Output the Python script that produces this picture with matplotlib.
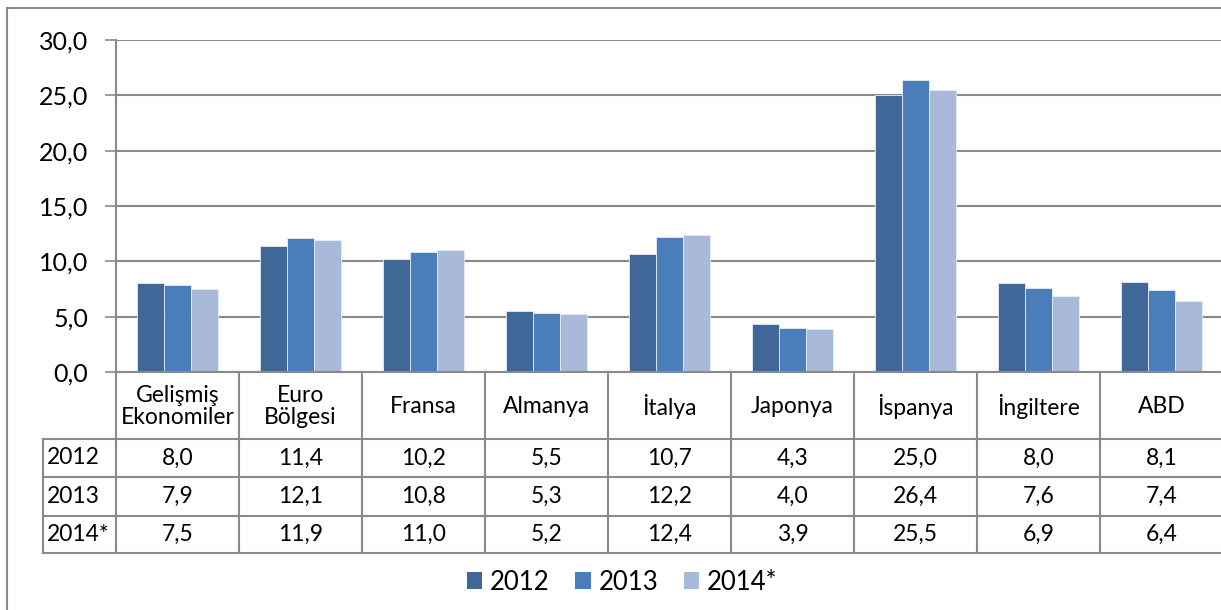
import numpy as np
import matplotlib.pyplot as plt
from matplotlib.lines import Line2D
from matplotlib.patches import Patch

plt.rcParams['font.family'] = ['Lato', 'DejaVu Sans']

categories = ["Gelişmiş\nEkonomiler", "Euro\nBölgesi", "Fransa", "Almanya", "İtalya",
              "Japonya", "İspanya", "İngiltere", "ABD"]
years = ["2012", "2013", "2014*"]
v2012 = [8.0, 11.4, 10.2, 5.5, 10.7, 4.3, 25.0, 8.0, 8.1]
v2013 = [7.9, 12.1, 10.8, 5.3, 12.2, 4.0, 26.4, 7.6, 7.4]
v2014 = [7.5, 11.9, 11.0, 5.2, 12.4, 3.9, 25.5, 6.9, 6.4]
series = [v2012, v2013, v2014]
colors = ['#3F6899', '#4A7EBB', '#A8B9D9']
grey = '#8A8A8A'

W, H = 1221, 610
fig = plt.figure(figsize=(W / 100, H / 100), dpi=100)

# plot area in pixels
x0, x1 = 116, 1223
y_top, y_zero = 40, 372
ax = fig.add_axes([x0 / W, 1 - y_zero / H, (x1 - x0) / W, (y_zero - y_top) / H])

n = len(categories)
x = np.arange(n)
bw = 0.222
for i, (vals, c) in enumerate(zip(series, colors)):
    ax.bar(x + (i - 1) * bw, vals, bw, color=c, edgecolor='#E6ECF5', linewidth=0.6,
           zorder=3, label=years[i])

ax.set_xlim(-0.5, n - 0.5)
ax.set_ylim(0, 30)
ax.set_yticks(np.arange(0, 31, 5))
ax.set_yticklabels([f"{t:.1f}".replace('.', ',') for t in np.arange(0, 31, 5)])
ax.yaxis.grid(True, color=grey, linewidth=1.5, zorder=0)
ax.tick_params(axis='y', length=8, width=1.2, color=grey, pad=12, labelsize=18)
ax.set_xticks([])
for s in ['top', 'right', 'bottom']:
    ax.spines[s].set_visible(False)
ax.spines['left'].set_color(grey)
ax.spines['left'].set_linewidth(1.5)

# data table below the plot
cw = (x1 - x0) / n
tx0 = 43
rows_y = [372, 439, 477, 516, 553]
tax = fig.add_axes([tx0 / W, 1 - rows_y[-1] / H, (x1 - tx0) / W, (rows_y[-1] - rows_y[0]) / H])
tax.set_xlim(tx0, x1)
tax.set_ylim(rows_y[-1], rows_y[0])
tax.axis('off')
lw = 1.5
# horizontal lines
tax.plot([x0, x1], [rows_y[0], rows_y[0]], color=grey, lw=lw, clip_on=False)
for yy in rows_y[1:]:
    tax.plot([tx0, x1], [yy, yy], color=grey, lw=lw, clip_on=False)
# vertical lines
tax.plot([tx0, tx0], [rows_y[1], rows_y[-1]], color=grey, lw=lw, clip_on=False)
for k in range(n + 1):
    xx = x0 + k * cw
    tax.plot([xx, xx], [rows_y[0], rows_y[-1]], color=grey, lw=lw, clip_on=False)
fs = 16.5
for k, cat in enumerate(categories):
    cx = x0 + (k + 0.5) * cw
    tax.text(cx, (rows_y[0] + rows_y[1]) / 2 + 1, cat, ha='center', va='center',
             fontsize=fs, linespacing=1.1)
    for r, vals in enumerate(series):
        cy = (rows_y[r + 1] + rows_y[r + 2]) / 2
        tax.text(cx, cy, f"{vals[k]:.1f}".replace('.', ','), ha='center', va='center',
                 fontsize=fs)
for r, yr in enumerate(years):
    cy = (rows_y[r + 1] + rows_y[r + 2]) / 2
    tax.text(tx0 + 4, cy, yr, ha='left', va='center', fontsize=fs)

# legend
handles = [Patch(facecolor=c, edgecolor='none') for c in colors]
fig.legend(handles, years, loc='center', bbox_to_anchor=(622 / W, 1 - 582 / H), ncol=3,
           frameon=False, fontsize=18.5, handlelength=0.6, handleheight=0.6,
           handletextpad=0.3, columnspacing=1.0)

# outer chart border
fig.add_artist(Line2D([7 / W, 7 / W], [0, 1 - 8 / H], color=grey, lw=1.5))
fig.add_artist(Line2D([7 / W, 1], [1 - 8 / H, 1 - 8 / H], color=grey, lw=1.5))

plt.savefig('out.png', dpi=100)
plt.close()
